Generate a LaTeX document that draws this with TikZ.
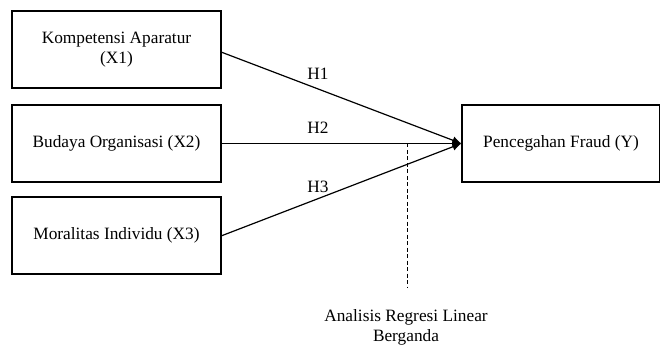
\documentclass[tikz,border=0pt]{standalone}
\usepackage{fontspec}
\setmainfont{Liberation Serif}
\usetikzlibrary{arrows.meta}
\begin{document}
\begin{tikzpicture}[x=1pt,y=-1pt,
  box/.style={draw,line width=1.3pt,minimum width=209pt,minimum height=77pt,inner sep=0pt,align=center,
    font=\fontsize{17.3}{20}\selectfont},
  lbl/.style={font=\fontsize{17.3}{20}\selectfont,inner sep=0pt},
  conn/.style={line width=1.2pt,-{Latex[length=9pt,width=8pt]}}]
\useasboundingbox (0,0) rectangle (660,347);
\node[box] (x1) at (116.5,49.5) {Kompetensi Aparatur\\(X1)};
\node[box] (x2) at (116.5,143.5) {Budaya Organisasi (X2)};
\node[box] (x3) at (116.5,235.5) {Moralitas Individu (X3)};
\node[box,minimum width=198pt] (y) at (561,143.5) {Pencegahan Fraud (Y)};
\coordinate (t1) at (221,52);
\coordinate (t3) at (221,236);
\draw[conn] (t1) -- (y.west);
\draw[conn] (x2.east) -- (y.west);
\draw[conn] (t3) -- (y.west);
\node[lbl] (h1) at (318,74) {H1};
\node[lbl] (h2) at (318,128) {H2};
\node[lbl] (h3) at (318,187) {H3};
\coordinate (d1) at (407,143.5);
\coordinate (d2) at (407,287);
\draw[dashed,line width=0.9pt,dash pattern=on 4pt off 2.5pt] (d1) -- (d2);
\node[lbl,align=center] (reg) at (406,327.5) {Analisis Regresi Linear\\Berganda};
\end{tikzpicture}
\end{document}
